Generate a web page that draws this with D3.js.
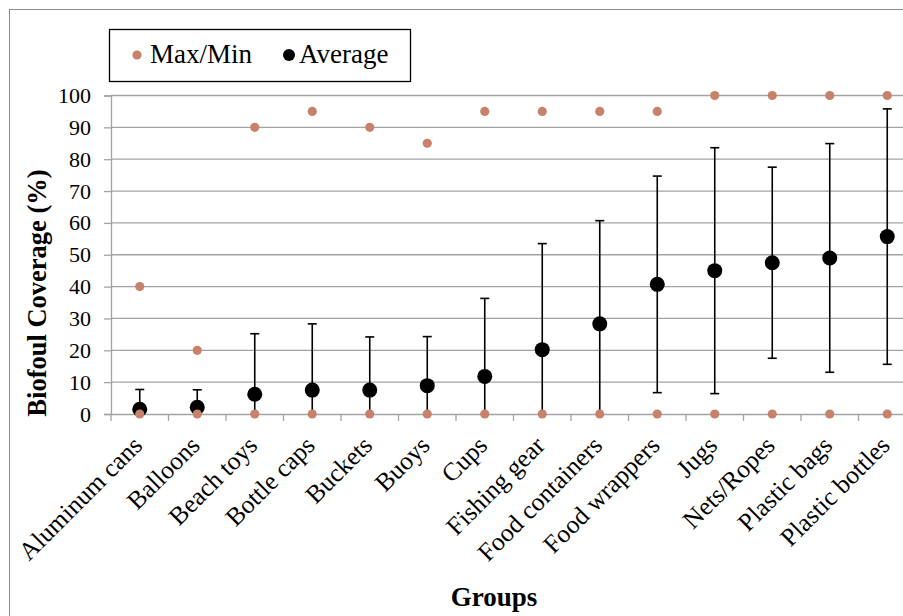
<!DOCTYPE html>
<html>
<head>
<meta charset="utf-8">
<script src="https://cdn.jsdelivr.net/npm/d3@7/dist/d3.min.js"></script>
<style>
  html, body { margin: 0; padding: 0; background: #fff; }
  svg { display: block; }
</style>
</head>
<body>
<svg id="chart" width="903" height="616"></svg>
<script>
// Debris groups along the x axis
const categories = ["Aluminum cans", "Balloons", "Beach toys", "Bottle caps", "Buckets", "Buoys",
  "Cups", "Fishing gear", "Food containers", "Food wrappers", "Jugs", "Nets/Ropes",
  "Plastic bags", "Plastic bottles"];
// Mean biofoul coverage (%) per group
const average = [1.5, 2.1, 6.2, 7.5, 7.5, 8.9, 11.8, 20.2, 28.3, 40.7, 45.0, 47.5, 49.0, 55.7];
// Standard deviation shown as error bars
const stdDev = [6.2, 5.5, 19.0, 20.8, 16.7, 15.4, 24.5, 33.3, 32.4, 34.0, 38.6, 30.0, 35.9, 40.1];
// Observed extremes per group
const maxValue = [40, 20, 90, 95, 90, 85, 95, 95, 95, 95, 100, 100, 100, 100];
const minValue = [0, 0, 0, 0, 0, 0, 0, 0, 0, 0, 0, 0, 0, 0];
// Y axis ticks
const yTicks = [0, 10, 20, 30, 40, 50, 60, 70, 80, 90, 100];

const svg = d3.select("#chart");
const serif = '"Liberation Serif"';
const orange = "#c8826b";
const gridGrey = "#a3a3a3";

const plot = { left: 111, right: 916, top: 95.5, bottom: 414 };

const x = d3.scaleBand().domain(categories).range([plot.left, plot.right]).padding(0);
const y = d3.scaleLinear().domain([0, 100]).range([plot.bottom, plot.top]);

// Outer chart frame
svg.append("rect")
  .attr("x", 9.5).attr("y", 9.5)
  .attr("width", 960).attr("height", 660)
  .attr("fill", "none").attr("stroke", "#8c8c8c").attr("stroke-width", 1);

// Horizontal gridlines
svg.append("g")
  .selectAll("line")
  .data(yTicks.filter(d => d > 0))
  .join("line")
  .attr("x1", plot.left).attr("x2", plot.right)
  .attr("y1", d => y(d)).attr("y2", d => y(d))
  .attr("stroke", gridGrey).attr("stroke-width", 1.3);

// Y axis
const yAxis = svg.append("g")
  .attr("transform", `translate(${plot.left},0)`)
  .call(d3.axisLeft(y).tickValues(yTicks).tickSize(7).tickPadding(13).tickFormat(d3.format("d")));
yAxis.attr("font-family", null);
yAxis.select(".domain").attr("stroke", gridGrey).attr("stroke-width", 1.3);
yAxis.selectAll(".tick line").attr("stroke", gridGrey).attr("stroke-width", 1.3);
yAxis.selectAll(".tick text")
  .style("font-family", serif).style("font-size", "22px").attr("fill", "#000");

// X axis with ticks between groups
const xAxis = svg.append("g")
  .attr("transform", `translate(0,${plot.bottom})`)
  .call(d3.axisBottom(x).tickSize(0).tickFormat(""));
xAxis.select(".domain").attr("stroke", gridGrey).attr("stroke-width", 1.3);
xAxis.selectAll(".tick").remove();
xAxis.selectAll("line.sep")
  .data(categories)
  .join("line")
  .attr("class", "sep")
  .attr("x1", d => x(d)).attr("x2", d => x(d))
  .attr("y1", 0).attr("y2", 7)
  .attr("stroke", gridGrey).attr("stroke-width", 1.3);

// Rotated group labels
svg.append("g")
  .selectAll("text")
  .data(categories)
  .join("text")
  .attr("transform", d => `translate(${x(d) + x.bandwidth() / 2 + 4},${plot.bottom + 33}) rotate(-45)`)
  .attr("text-anchor", "end")
  .style("font-family", serif)
  .style("font-size", "25.5px")
  .attr("fill", "#000")
  .text(d => d);

// Error bars (mean ± SD, clipped to the axis range)
const rows = categories.map((c, i) => ({
  c, avg: average[i], sd: stdDev[i], max: maxValue[i], min: minValue[i]
}));
const cx = d => x(d.c) + x.bandwidth() / 2;
const lo = d => Math.max(0, d.avg - d.sd);
const hi = d => Math.min(100, d.avg + d.sd);

const eb = svg.append("g").attr("stroke", "#000").attr("stroke-width", 1.6);
eb.selectAll("line.stem").data(rows).join("line")
  .attr("class", "stem")
  .attr("x1", cx).attr("x2", cx)
  .attr("y1", d => y(lo(d))).attr("y2", d => y(hi(d)));
eb.selectAll("line.capHi").data(rows).join("line")
  .attr("class", "capHi")
  .attr("x1", d => cx(d) - 4.5).attr("x2", d => cx(d) + 4.5)
  .attr("y1", d => y(hi(d))).attr("y2", d => y(hi(d)));
eb.selectAll("line.capLo").data(rows.filter(d => d.avg - d.sd > 0)).join("line")
  .attr("class", "capLo")
  .attr("x1", d => cx(d) - 4.5).attr("x2", d => cx(d) + 4.5)
  .attr("y1", d => y(lo(d))).attr("y2", d => y(lo(d)));

// Average markers
svg.append("g").selectAll("circle").data(rows).join("circle")
  .attr("cx", cx).attr("cy", d => y(d.avg)).attr("r", 7.5).attr("fill", "#000");

// Max / Min markers
const ext = rows.flatMap(d => [{ c: d.c, v: d.max }, { c: d.c, v: d.min }]);
svg.append("g").selectAll("circle").data(ext).join("circle")
  .attr("cx", cx).attr("cy", d => y(d.v)).attr("r", 4.6).attr("fill", orange);

// Axis titles
svg.append("text")
  .attr("transform", "translate(46,293) rotate(-90)")
  .attr("text-anchor", "middle")
  .style("font-family", serif).style("font-size", "26.5px").style("font-weight", "bold")
  .attr("fill", "#000")
  .text("Biofoul Coverage (%)");

svg.append("text")
  .attr("x", 494).attr("y", 606)
  .attr("text-anchor", "middle")
  .style("font-family", serif).style("font-size", "27px").style("font-weight", "bold")
  .attr("fill", "#000")
  .text("Groups");

// Legend
const lg = svg.append("g");
lg.append("rect")
  .attr("x", 109.5).attr("y", 29.5).attr("width", 301).attr("height", 52)
  .attr("fill", "#fff").attr("stroke", "#000").attr("stroke-width", 1.3);
lg.append("circle").attr("cx", 137).attr("cy", 55).attr("r", 4.6).attr("fill", orange);
lg.append("text").attr("x", 150).attr("y", 63)
  .style("font-family", serif).style("font-size", "27px").attr("fill", "#000").text("Max/Min");
lg.append("circle").attr("cx", 289).attr("cy", 55).attr("r", 6).attr("fill", "#000");
lg.append("text").attr("x", 299).attr("y", 63)
  .style("font-family", serif).style("font-size", "27px").attr("fill", "#000").text("Average");
</script>
</body>
</html>
